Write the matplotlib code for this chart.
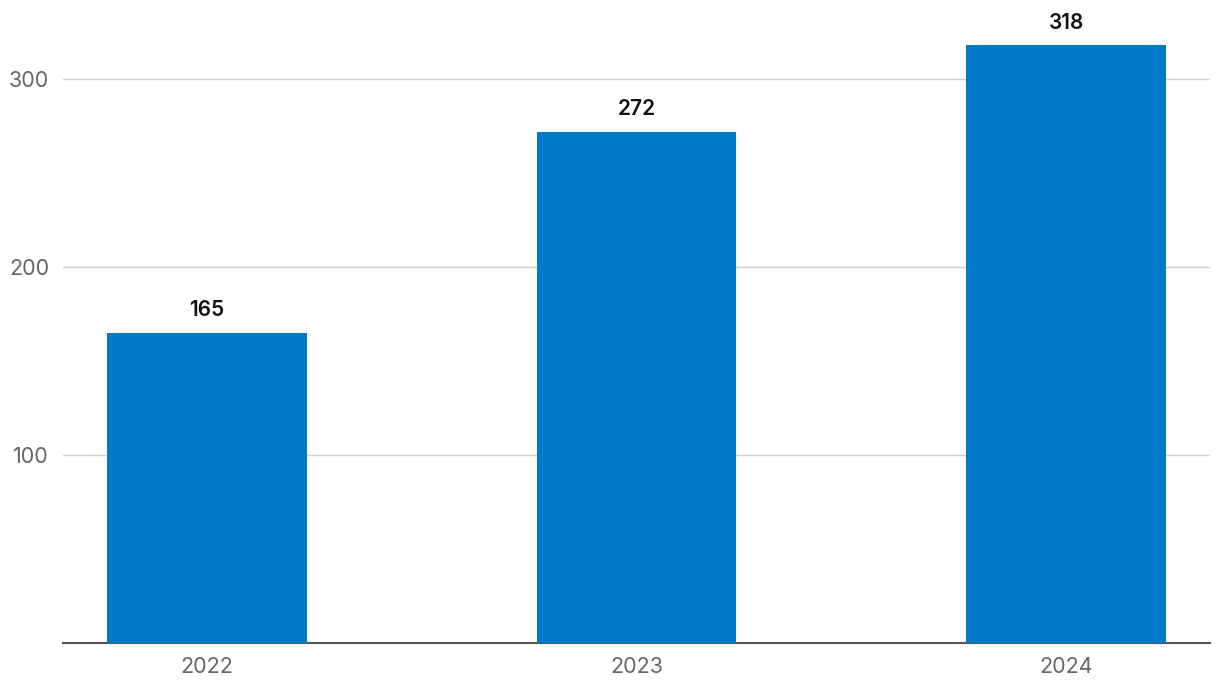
import matplotlib.pyplot as plt

years = ['2022', '2023', '2024']
values = [165, 272, 318]
yticks = [100, 200, 300]

plt.rcParams['font.family'] = ['Inter', 'DejaVu Sans']

fig = plt.figure(figsize=(12.2, 6.96), dpi=100)
ax = fig.add_axes([63 / 1220, 53 / 696, (1210 - 63) / 1220, 643 / 696])

x = list(range(len(years)))
bars = ax.bar(x, values, width=0.465, color='#0079C8', zorder=3)

# value labels above bars
for xi, v in zip(x, values):
    ax.annotate(str(v), (xi, v), xytext=(0, 9), textcoords='offset points',
                ha='center', va='bottom', fontsize=15, fontweight='semibold', color='#111111')

ax.set_xlim(-0.335, 2.335)
ax.set_ylim(0, 342)
ax.set_xticks(x)
ax.set_xticklabels(years)
ax.set_yticks(yticks)

ax.grid(axis='y', color='#d0d0d0', linewidth=1, zorder=0)
for s in ['top', 'right', 'left']:
    ax.spines[s].set_visible(False)
ax.spines['bottom'].set_color('#555555')
ax.spines['bottom'].set_linewidth(1.5)

ax.tick_params(axis='both', length=0, labelsize=15.5, labelcolor='#666666')
ax.tick_params(axis='x', pad=10)
ax.tick_params(axis='y', pad=10)

fig.savefig('out.png', dpi=100)
